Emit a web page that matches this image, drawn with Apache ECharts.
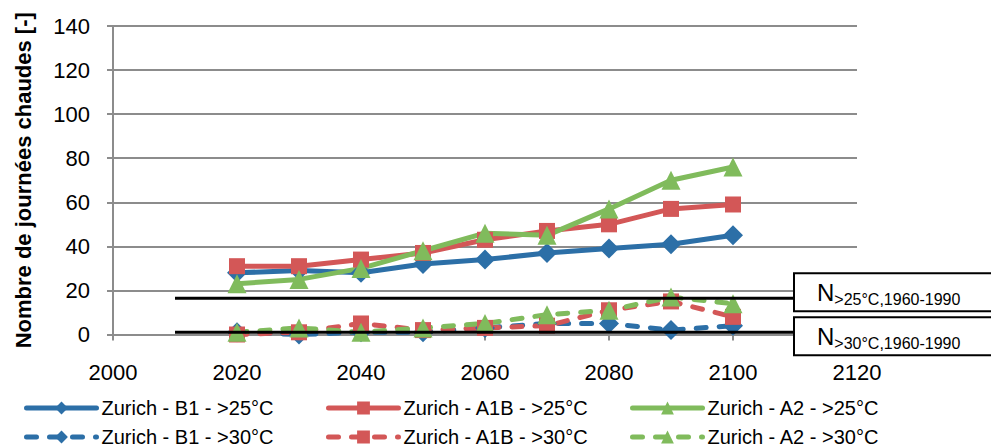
<!DOCTYPE html>
<html>
<head>
<meta charset="utf-8">
<style>
  html, body { margin: 0; padding: 0; background: #fff; }
  #chart { width: 991px; height: 448px; }
</style>
<script src="https://cdn.jsdelivr.net/npm/echarts@6/dist/echarts.min.js"></script>
</head>
<body>
<div id="chart"></div>
<script>
var years = [2020, 2030, 2040, 2050, 2060, 2070, 2080, 2090, 2100];
var b1Above25 = [28, 29, 28, 32, 34, 37, 39, 41, 45];
var a1bAbove25 = [31, 31, 34, 37, 43, 47, 50, 57, 59];
var a2Above25 = [23, 25, 30, 38, 46, 45, 57, 70, 76];
var b1Above30 = [1, 0, 1, 1, 3, 5, 5, 2, 4];
var a1bAbove30 = [0, 1, 5, 2, 3, 4, 11, 15, 8];
var a2Above30 = [1, 3, 1, 3, 5, 9, 11, 17, 14];
var refYears = [2010, 2110];
var ref25 = 16.5;
var ref30 = 1;

var blue = '#2c6fa7';
var red = '#d35757';
var green = '#80bb5c';
var grid = '#8c8c8c';
var font = 'Liberation Sans';

function pairs(ys) {
  return years.map(function(y, i) { return [y, ys[i]]; });
}

function serie(name, ys, color, symbol, size, dashed) {
  return {
    name: name,
    type: 'line',
    data: pairs(ys),
    symbol: symbol,
    symbolSize: size,
    showAllSymbol: true,
    lineStyle: { color: color, width: 5, type: dashed ? [10, 13] : 'solid', cap: 'round' },
    itemStyle: { color: color },
    emphasis: { disabled: true }
  };
}

// horizontal reference line with a boxed label at its right end
function refLine(name, value, sub, dy) {
  return {
    name: name,
    type: 'line',
    data: refYears.map(function(y) { return [y, value]; }),
    showSymbol: false,
    symbol: 'none',
    lineStyle: { color: '#000', width: 3 },
    z: 5,
    endLabel: {
      show: true,
      distance: 0,
      align: 'left',
      offset: [0, dy],
      formatter: '{n|N}{s|' + sub + '}',
      backgroundColor: '#fff',
      borderColor: '#000',
      borderWidth: 2,
      padding: [1, 10, 1, 22],
      width: 230,
      rich: {
        n: { fontFamily: font, fontSize: 24, color: '#000', lineHeight: 34, verticalAlign: 'middle' },
        s: { fontFamily: font, fontSize: 16, color: '#000', lineHeight: 20, padding: [14, 0, 0, 0], verticalAlign: 'middle' }
      }
    },
    emphasis: { disabled: true }
  };
}

var names1 = ['Zurich - B1 - >25°C', 'Zurich - A1B - >25°C', 'Zurich - A2 - >25°C'];
var names2 = ['Zurich - B1 - >30°C', 'Zurich - A1B - >30°C', 'Zurich - A2 - >30°C'];
var legendLefts = [19, 321, 625];

function legend(name, left, top) {
  return {
    data: [name],
    left: left,
    top: top,
    itemWidth: 70,
    itemHeight: 16,
    lineStyle: { width: 5 },
    textStyle: { fontFamily: font, fontSize: 20, color: '#000' }
  };
}

var legends = [];
names1.forEach(function(n, i) { legends.push(legend(n, legendLefts[i], 393)); });
names2.forEach(function(n, i) { legends.push(legend(n, legendLefts[i], 422)); });

var chart = echarts.init(document.getElementById('chart'), null, { renderer: 'svg' });
chart.setOption({
  animation: false,
  grid: { left: 113, right: 134, top: 26, bottom: 113.5 },
  legend: legends,
  xAxis: {
    type: 'value',
    min: 2000,
    max: 2120,
    interval: 20,
    axisLine: { show: false },
    axisTick: { show: true, length: 6, lineStyle: { color: grid, width: 2 } },
    axisLabel: { color: '#000', fontFamily: font, fontSize: 22, margin: 27, formatter: function(v) { return String(v); } },
    splitLine: { show: false }
  },
  yAxis: {
    type: 'value',
    min: 0,
    max: 140,
    interval: 20,
    name: 'Nombre de journées chaudes [-]',
    nameLocation: 'middle',
    nameGap: 79,
    nameTextStyle: { fontFamily: font, fontSize: 22, fontWeight: 'bold', color: '#000' },
    axisLine: { show: true, lineStyle: { color: grid, width: 2 } },
    axisTick: { show: true, length: 6, lineStyle: { color: grid, width: 2 } },
    axisLabel: { color: '#000', fontFamily: font, fontSize: 22, margin: 23 },
    splitLine: { lineStyle: { color: grid, width: 2 } }
  },
  series: [
    serie(names1[0], b1Above25, blue, 'diamond', 20, false),
    serie(names1[1], a1bAbove25, red, 'rect', 16, false),
    serie(names1[2], a2Above25, green, 'triangle', 19, false),
    serie(names2[0], b1Above30, blue, 'diamond', 20, true),
    serie(names2[1], a1bAbove30, red, 'rect', 16, true),
    serie(names2[2], a2Above30, green, 'triangle', 19, true),
    refLine('ref25', ref25, '>25°C,1960-1990', -6),
    refLine('ref30', ref30, '>30°C,1960-1990', 4)
  ]
});
window.addEventListener('resize', function() { chart.resize(); });
</script>
</body>
</html>
